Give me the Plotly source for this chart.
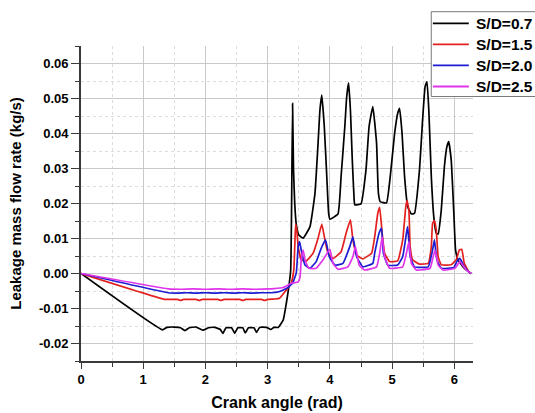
import plotly.graph_objects as go

# Crank angle (rad) and leakage mass flow rate (kg/s) for each S/D ratio
x_07 = [0.00, 1.31, 1.38, 1.50, 1.60, 1.67, 1.74, 1.85, 1.96, 2.05, 2.15, 2.24, 2.28, 2.33, 2.42, 2.47,
        2.52, 2.60, 2.64, 2.69, 2.78, 2.82, 2.87, 2.98, 3.05, 3.10, 3.17, 3.25, 3.30, 3.34, 3.37,
        3.385, 3.40, 3.415, 3.435, 3.46, 3.50, 3.57, 3.68, 3.76, 3.81, 3.84, 3.87, 3.91, 3.95, 3.98,
        4.00, 4.13, 4.18, 4.24, 4.27, 4.30, 4.33, 4.36, 4.39, 4.40, 4.50, 4.58, 4.63, 4.69, 4.75,
        4.78, 4.81, 4.91, 4.97, 5.04, 5.09, 5.12, 5.16, 5.20, 5.25, 5.31, 5.36, 5.44, 5.49, 5.53,
        5.56, 5.59, 5.63, 5.67, 5.71, 5.74, 5.79, 5.84, 5.88, 5.91, 5.95, 5.99, 6.02, 6.06, 6.16, 6.27]
y_07 = [0.0000, -0.0161, -0.0154, -0.0153, -0.0155, -0.0163, -0.0155, -0.0153, -0.0162, -0.0155, -0.0154, -0.0160, -0.0171, -0.0155, -0.0155, -0.0171,
        -0.0155, -0.0155, -0.0170, -0.0155, -0.0155, -0.0168, -0.0154, -0.0154, -0.0160, -0.0154, -0.0154, -0.0133, -0.0085, -0.0038, 0.0010,
        0.0200, 0.0486, 0.0300, 0.0200, 0.0140, 0.0110, 0.0101, 0.0134, 0.0229, 0.0372, 0.0467, 0.0510, 0.0420, 0.0277, 0.0172,
        0.0155, 0.0170, 0.0277, 0.0420, 0.0505, 0.0545, 0.0467, 0.0324, 0.0210, 0.0196, 0.0199, 0.0296, 0.0420, 0.0477, 0.0372,
        0.0229, 0.0205, 0.0202, 0.0277, 0.0400, 0.0458, 0.0472, 0.0400, 0.0277, 0.0191, 0.0170, 0.0172, 0.0296, 0.0439, 0.0534,
        0.0548, 0.0467, 0.0277, 0.0162, 0.0115, 0.0113, 0.0181, 0.0305, 0.0362, 0.0377, 0.0324, 0.0181, 0.0067, 0.0039, 0.0015, 0.0000]

x_15 = [0.00, 1.35, 1.45, 1.55, 1.60, 1.65, 1.75, 1.85, 1.90, 1.95, 2.10, 2.20, 2.25, 2.30, 2.45, 2.55,
        2.60, 2.65, 2.80, 2.90, 2.95, 3.00, 3.10, 3.19, 3.30, 3.38, 3.42, 3.44, 3.45, 3.47, 3.49,
        3.54, 3.62, 3.73, 3.81, 3.87, 3.92, 3.97, 4.05, 4.18, 4.26, 4.33, 4.37, 4.43, 4.53, 4.67,
        4.72, 4.77, 4.80, 4.84, 4.88, 4.96, 5.09, 5.17, 5.22, 5.24, 5.27, 5.29, 5.33, 5.44, 5.58,
        5.63, 5.65, 5.68, 5.71, 5.74, 5.79, 5.95, 6.03, 6.08, 6.12, 6.16, 6.24, 6.27]
y_15 = [0.0000, -0.0074, -0.0074, -0.0074, -0.0077, -0.0074, -0.0074, -0.0074, -0.0077, -0.0074, -0.0074, -0.0074, -0.0077, -0.0074, -0.0074, -0.0074,
        -0.0077, -0.0074, -0.0074, -0.0074, -0.0077, -0.0074, -0.0073, -0.0071, -0.0047, -0.0028, 0.0010, 0.0100, 0.0141, 0.0120, 0.0077,
        0.0039, 0.0036, 0.0058, 0.0101, 0.0141, 0.0096, 0.0058, 0.0043, 0.0062, 0.0115, 0.0153, 0.0096, 0.0053, 0.0042, 0.0058,
        0.0105, 0.0172, 0.0189, 0.0115, 0.0058, 0.0034, 0.0036, 0.0096, 0.0191, 0.0208, 0.0181, 0.0077, 0.0039, 0.0027, 0.0029,
        0.0077, 0.0143, 0.0151, 0.0124, 0.0048, 0.0025, 0.0025, 0.0039, 0.0067, 0.0069, 0.0029, 0.0003, 0.0000]

x_20 = [0.00, 1.40, 1.55, 1.70, 1.85, 2.00, 2.15, 2.30, 2.45, 2.60, 2.75, 2.90, 3.05, 3.18, 3.30, 3.40,
        3.46, 3.49, 3.51, 3.52, 3.55, 3.60, 3.68, 3.78, 3.86, 3.93, 3.99, 4.08, 4.21, 4.32, 4.37,
        4.43, 4.53, 4.69, 4.72, 4.79, 4.83, 4.86, 4.93, 5.09, 5.17, 5.23, 5.25, 5.29, 5.36, 5.58,
        5.65, 5.68, 5.72, 5.79, 5.99, 6.04, 6.09, 6.16, 6.24, 6.27]
y_20 = [0.0000, -0.0055, -0.0056, -0.0055, -0.0056, -0.0055, -0.0056, -0.0055, -0.0056, -0.0055, -0.0056, -0.0055, -0.0055, -0.0052, -0.0043, -0.0028,
        0.0002, 0.0077, 0.0091, 0.0085, 0.0058, 0.0024, 0.0015, 0.0034, 0.0072, 0.0096, 0.0048, 0.0024, 0.0029, 0.0077, 0.0105,
        0.0048, 0.0019, 0.0029, 0.0058, 0.0115, 0.0129, 0.0058, 0.0024, 0.0024, 0.0048, 0.0115, 0.0134, 0.0048, 0.0019, 0.0019,
        0.0067, 0.0096, 0.0039, 0.0015, 0.0017, 0.0034, 0.0043, 0.0019, 0.0003, 0.0000]

x_25 = [0.00, 1.41, 1.60, 1.80, 2.00, 2.20, 2.40, 2.60, 2.80, 3.00, 3.10, 3.25, 3.38, 3.49, 3.52, 3.54,
        3.57, 3.60, 3.66, 3.78, 3.89, 4.00, 4.05, 4.13, 4.29, 4.37, 4.41, 4.47, 4.56, 4.75, 4.80,
        4.84, 4.88, 4.96, 5.17, 5.23, 5.27, 5.31, 5.39, 5.61, 5.66, 5.69, 5.74, 5.82, 6.01, 6.09,
        6.19, 6.27]
y_25 = [0.0000, -0.0044, -0.0045, -0.0044, -0.0045, -0.0044, -0.0045, -0.0044, -0.0045, -0.0044, -0.0043, -0.0040, -0.0028, -0.0024, -0.0010, 0.0039,
        0.0067, 0.0039, 0.0015, 0.0015, 0.0039, 0.0069, 0.0029, 0.0012, 0.0019, 0.0048, 0.0077, 0.0024, 0.0010, 0.0019, 0.0058,
        0.0105, 0.0048, 0.0015, 0.0019, 0.0058, 0.0091, 0.0029, 0.0010, 0.0015, 0.0048, 0.0067, 0.0024, 0.0010, 0.0015, 0.0034,
        0.0010, 0.0000]

series_names = ["S/D=0.7", "S/D=1.5", "S/D=2.0", "S/D=2.5"]
series_x = [x_07, x_15, x_20, x_25]
series_y = [y_07, y_15, y_20, y_25]
series_colors = ["#000000", "#e3201f", "#1c1cd2", "#e034ea"]

x_ticks = [0, 1, 2, 3, 4, 5, 6]
y_ticks = [-0.02, -0.01, 0.00, 0.01, 0.02, 0.03, 0.04, 0.05, 0.06]
y_tick_text = ["-0.02", "-0.01", "0.00", "0.01", "0.02", "0.03", "0.04", "0.05", "0.06"]

font_family = "Liberation Sans, Arial, sans-serif"
axis_color = "#3a3a3a"

fig = go.Figure()
for name, xs, ys, color in zip(series_names, series_x, series_y, series_colors):
    fig.add_trace(go.Scatter(x=xs, y=ys, mode="lines", name=name, showlegend=False,
                             line=dict(color=color, width=1.7, shape="spline", smoothing=0.35)))

# Boxed key in the top-right corner, running off the page edge
shapes = [dict(type="rect", xref="paper", yref="paper",
               x0=0.8935, x1=1.17, y0=0.8397, y1=1.1089,
               line=dict(color="#7a7a7a", width=1), fillcolor="white", layer="above")]
annotations = []
row_top, row_step = 1.0721, 0.0669
for i, (name, color) in enumerate(zip(series_names, series_colors)):
    yy = row_top - i * row_step
    shapes.append(dict(type="line", xref="paper", yref="paper",
                       x0=0.8976, x1=0.9893, y0=yy, y1=yy,
                       line=dict(color=color, width=1.8), layer="above"))
    annotations.append(dict(xref="paper", yref="paper", x=1.0035, y=yy,
                            xanchor="left", yanchor="middle", showarrow=False,
                            text=name, font=dict(size=15.5, family=font_family,
                                                 color="black", weight="bold")))

fig.update_layout(
    width=535, height=413,
    margin=dict(l=81, r=61.5, t=46, b=52),
    paper_bgcolor="white", plot_bgcolor="white",
    font=dict(family=font_family, color="black"),
    showlegend=False,
    shapes=shapes,
    annotations=annotations,
)

fig.update_xaxes(
    range=[0, 6.3], tickvals=x_ticks, automargin=False,
    showline=True, linecolor=axis_color, linewidth=1.6,
    ticks="outside", ticklen=6, tickcolor=axis_color, tickwidth=1.3,
    tickfont=dict(size=13, weight="bold"),
    showgrid=True, gridcolor="#c9c9c9", gridwidth=1,
    zeroline=False,
    minor=dict(dtick=0.5, showgrid=True, gridcolor="#dcdcdc", griddash="dot",
               ticks="outside", ticklen=4, tickcolor=axis_color),
    title=dict(text="Crank angle (rad)", font=dict(size=16, weight="bold"), standoff=10),
)
fig.update_yaxes(
    range=[-0.025, 0.065], tickvals=y_ticks, ticktext=y_tick_text, automargin=False,
    showline=True, linecolor=axis_color, linewidth=1.6,
    ticks="outside", ticklen=8, tickcolor=axis_color, tickwidth=1.3,
    tickfont=dict(size=13, weight="bold"),
    showgrid=True, gridcolor="#c9c9c9", gridwidth=1,
    zeroline=False,
    minor=dict(dtick=0.005, showgrid=True, gridcolor="#dcdcdc", griddash="dot",
               ticks="outside", ticklen=4, tickcolor=axis_color),
    title=dict(text="Leakage mass flow rate (kg/s)", font=dict(size=15, weight="bold"), standoff=14),
)

fig.write_html("out.html")
